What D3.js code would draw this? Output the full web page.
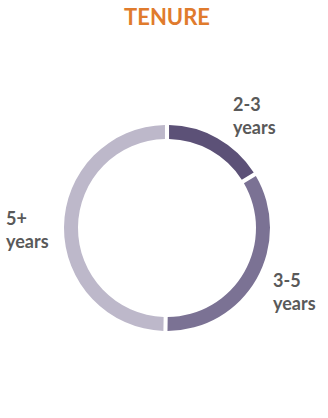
<!DOCTYPE html>
<html>
<head>
<meta charset="utf-8">
<script src="https://cdnjs.cloudflare.com/ajax/libs/d3/7.8.5/d3.min.js"></script>
<style>
  body { margin: 0; background: #fff; }
</style>
</head>
<body>
<div id="chart"></div>
<script>
// tenure data
var categories = ["2-3 years", "3-5 years", "5+ years"];
var values = [16, 34, 50];
var colors = ["#5c5177", "#7b7294", "#bdb8ca"];
var labelLines = [["2-3", "years"], ["3-5", "years"], ["5+", "years"]];

var width = 328,
	height = 418;

var svg = d3.select("#chart").append("svg")
	.attr("width", width)
	.attr("height", height)
	.style("background-color", "white");

svg.append("text")
	.attr("x", 167)
	.attr("y", 25)
	.attr("text-anchor", "middle")
	.style("font", "bold 22px Lato, sans-serif")
	.style("fill", "#e07b2d")
	.text("TENURE");

var g = svg.append("g").attr("transform", "translate(167,228)");

var pie = d3.pie().sort(null).padAngle(0.03);
var arc = d3.arc().innerRadius(89).outerRadius(103);

var arcs = pie(values);

g.selectAll(".slice")
	.data(arcs)
	.enter().append("path")
	.attr("class", "slice")
	.attr("d", arc)
	.style("fill", function(d, i) { return colors[i]; });

// label positions relative to the centre (hand placed, like the original)
var labelPos = [[66, -117], [106, 59], [-161, -3]];

var lab = g.selectAll(".lab")
	.data(arcs)
	.enter().append("text")
	.attr("class", "lab")
	.attr("transform", function(d, i) { return "translate(" + labelPos[i] + ")"; })
	.style("font", "bold 18px Lato, sans-serif")
	.style("fill", "#595959");

lab.selectAll("tspan")
	.data(function(d, i) { return labelLines[i]; })
	.enter().append("tspan")
	.attr("x", 0)
	.attr("dy", function(d, j) { return j ? 23 : 0; })
	.text(function(d) { return d; });
</script>
</body>
</html>
